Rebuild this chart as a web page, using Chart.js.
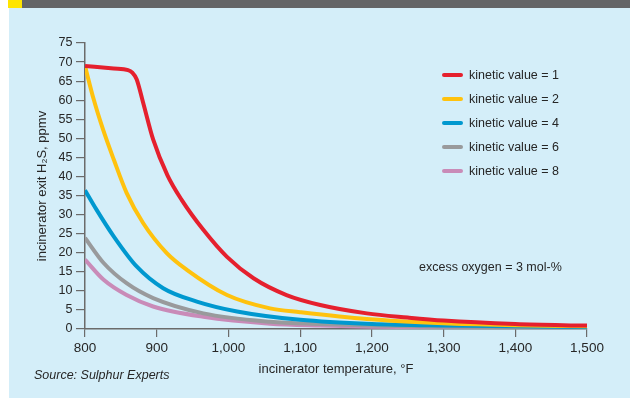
<!DOCTYPE html>
<html><head><meta charset="utf-8">
<script src="https://cdn.jsdelivr.net/npm/chart.js@4/dist/chart.umd.min.js"></script>
<style>html,body{margin:0;padding:0;background:#fff}</style>
</head><body>
<canvas id="c" width="630" height="398"></canvas>
<script>
// ---- data ----
const seriesLabels = ['kinetic value = 1','kinetic value = 2','kinetic value = 4','kinetic value = 6','kinetic value = 8'];
const temp1 = [800, 840, 860, 866, 872, 881, 895, 915, 935, 965, 998, 1035, 1081, 1128, 1193, 1250, 1300, 1400, 1500];
const kv1   = [69, 68.3, 67.9, 67.2, 65.5, 59.4, 49.7, 40.3, 33.8, 26, 18.9, 13.3, 8.9, 6.3, 4.1, 3.0, 2.2, 1.3, 0.9];
const temp2 = [800, 812, 825, 840, 858, 881, 914, 942, 998, 1058, 1100, 1193, 1300, 1400, 1500];
const kv2   = [69, 60.3, 52.4, 44.5, 35.7, 27.8, 19.9, 15.5, 8.9, 5.4, 4.4, 2.6, 1.5, 1.0, 0.7];
const temp4 = [800, 816, 840, 872, 909, 956, 1012, 1100, 1200, 1300, 1400, 1500];
const kv4   = [36.4, 31.3, 24.3, 16.4, 10.7, 7.2, 4.6, 2.4, 1.3, 0.9, 0.7, 0.5];
const temp6 = [800, 826, 858, 895, 965, 1058, 1128, 1200, 1300, 1500];
const kv6   = [23.9, 17.3, 12, 8.1, 4.1, 1.9, 1.3, 0.9, 0.6, 0.4];
const temp8 = [800, 826, 858, 895, 965, 1058, 1128, 1200, 1300, 1500];
const kv8   = [18.2, 12.9, 8.9, 5.9, 3.2, 1.4, 0.9, 0.6, 0.4, 0.2];
const xTicks = [800, 900, 1000, 1100, 1200, 1300, 1400, 1500];
const yTicks = [0,5,10,15,20,25,30,35,40,45,50,55,60,65,70,75];
const noteText = 'excess oxygen = 3 mol-%';
const sourceText = 'Source: Sulphur Experts';
const xTitle = 'incinerator temperature, °F';
const yTitle = 'incinerator exit H₂S, ppmv';

const colors = ['#E5202E', '#FFC20E', '#0098CF', '#999A9C', '#C98BB8'];
const FONT = 'Liberation Sans, Arial, sans-serif';
const TXT = '#262626';

function pts(xs, ys){ return xs.map((x,i)=>({x:x, y:ys[i]})); }
const allX = [temp1,temp2,temp4,temp6,temp8];
const allY = [kv1,kv2,kv4,kv6,kv8];

const datasets = seriesLabels.map((lab,i)=>({
  label: lab,
  data: pts(allX[i], allY[i]),
  borderColor: colors[i],
  backgroundColor: colors[i],
  borderWidth: 4,
  pointRadius: 0,
  fill: false,
  cubicInterpolationMode: 'monotone',
  borderJoinStyle: 'round'
}));

const decor = {
  id: 'decor',
  beforeDraw(chart){
    const ctx = chart.ctx;
    ctx.save();
    ctx.fillStyle = '#ffffff';
    ctx.fillRect(0,0,630,398);
    ctx.fillStyle = '#D4EEF9';
    ctx.fillRect(9,8,621,390);
    ctx.fillStyle = '#646567';
    ctx.fillRect(22,0,608,8);
    ctx.fillStyle = '#FFE500';
    ctx.fillRect(8,0,14,8);
    ctx.restore();
  },
  afterDraw(chart){
    const ctx = chart.ctx;
    ctx.save();
    // legend
    ctx.font = '12.5px ' + FONT;
    ctx.textBaseline = 'middle';
    ctx.textAlign = 'left';
    chart.data.datasets.forEach((ds,i)=>{
      const y = 75 + 24*i;
      ctx.strokeStyle = ds.borderColor;
      ctx.lineWidth = 4;
      ctx.lineCap = 'round';
      ctx.beginPath(); ctx.moveTo(444,y); ctx.lineTo(461,y); ctx.stroke();
      ctx.fillStyle = TXT;
      ctx.fillText(ds.label, 469, y+0.5);
    });
    // annotation
    ctx.fillText(noteText, 419, 268);
    // source
    ctx.font = 'italic 12.5px ' + FONT;
    ctx.fillText(sourceText, 34, 376);
    ctx.restore();
  }
};

new Chart(document.getElementById('c'), {
  type: 'line',
  data: { datasets },
  options: {
    responsive: false,
    animation: false,
    devicePixelRatio: 1,
    layout: { padding: { left: 0, right: 43, top: 43, bottom: 0 } },
    plugins: { legend: { display: false }, tooltip: { enabled: false } },
    scales: {
      x: {
        type: 'linear', min: 800, max: 1500,
        afterBuildTicks: s => { s.ticks = xTicks.map(v=>({value:v})); },
        afterFit: s => { s.height = 69; },
        grid: { drawOnChartArea: false, drawTicks: true, tickLength: 8, color: '#6b6b6b', lineWidth: 1.2 },
        border: { display: true, color: '#6b6b6b', width: 1.5 },
        ticks: { color: TXT, font: { family: FONT, size: 13.5 }, padding: 3,
          callback: v => v.toLocaleString('en-US') },
        title: { display: true, text: xTitle, color: TXT, font: { family: FONT, size: 13 }, padding: { top: 0, bottom: 21 } }
      },
      y: {
        type: 'linear', min: 0, max: 75,
        afterBuildTicks: s => { s.ticks = yTicks.map(v=>({value:v})); },
        afterFit: s => { s.width = 85; },
        grid: { drawOnChartArea: false, drawTicks: true, tickLength: 9, color: '#6b6b6b', lineWidth: 1.2 },
        border: { display: true, color: '#6b6b6b', width: 1.5 },
        ticks: { color: TXT, font: { family: FONT, size: 12.5 }, padding: 3.5 },
        title: { display: true, text: yTitle, color: TXT, font: { family: FONT, size: 13 }, padding: { top: 35, bottom: 0 } }
      }
    }
  },
  plugins: [decor]
});
</script>
</body></html>
